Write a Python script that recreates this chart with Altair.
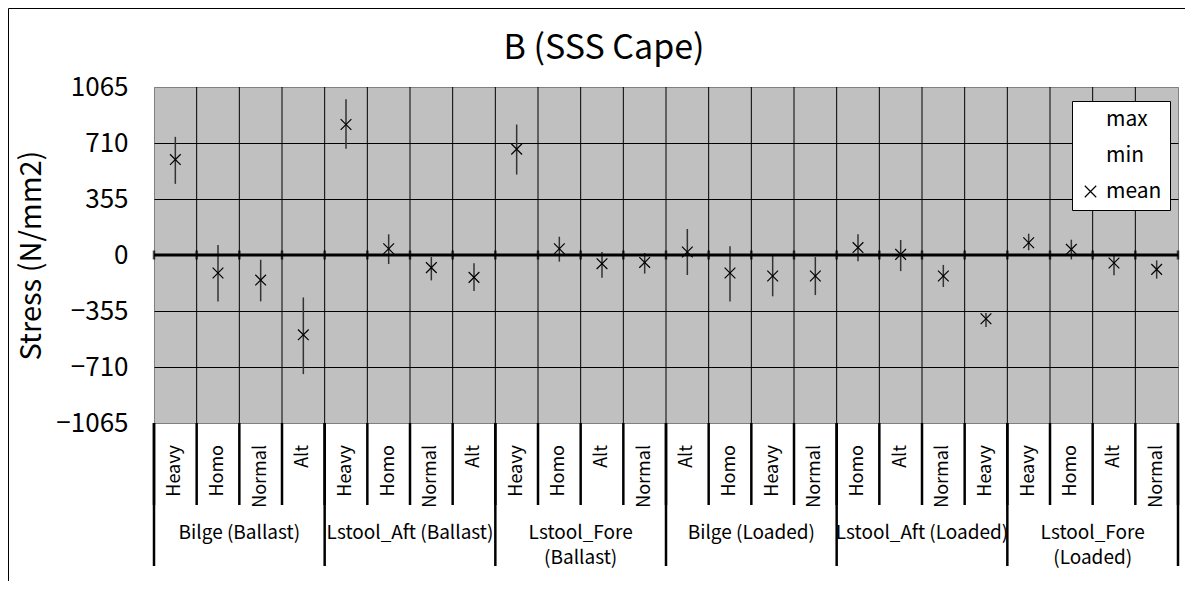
import altair as alt
import pandas as pd

# ---------------- data ----------------
groups = ["Bilge (Ballast)", "Lstool_Aft (Ballast)", "Lstool_Fore\n(Ballast)",
          "Bilge (Loaded)", "Lstool_Aft (Loaded)", "Lstool_Fore\n(Loaded)"]
conditions = ["Heavy", "Homo", "Normal", "Alt",
              "Heavy", "Homo", "Normal", "Alt",
              "Heavy", "Homo", "Alt", "Normal",
              "Alt", "Homo", "Heavy", "Normal",
              "Homo", "Alt", "Normal", "Heavy",
              "Heavy", "Homo", "Alt", "Normal"]
mean_vals = [605, -114, -159, -506,
             827, 40, -80, -142,
             671, 40, -55, -47,
             19, -114, -133, -133,
             47, 4, -133, -404,
             78, 36, -51, -91]
max_vals = [749, 63, -30, -269,
            988, 131, -13, -53,
            827, 116, 19, 13,
            165, 55, 4, -13,
            131, 95, -63, -368,
            135, 97, -2, -34]
min_vals = [451, -294, -294, -755,
            673, -57, -161, -228,
            510, -42, -144, -118,
            -127, -294, -262, -254,
            -40, -102, -203, -457,
            30, -28, -129, -150]
y_ticks = [-1065, -710, -355, 0, 355, 710, 1065]
per_group = 4

FONT = "Noto Sans CJK JP"
W, H = 1024, 336
n = len(conditions)

cat = pd.DataFrame({"pos": [i + 0.5 for i in range(n)], "cond": conditions,
                    "max": max_vals, "min": min_vals, "mean": mean_vals})
long = cat.melt(id_vars=["pos"], value_vars=["max", "min", "mean"],
                var_name="series", value_name="stress")
grp = pd.DataFrame({"gpos": [per_group * g + per_group / 2 for g in range(len(groups))],
                    "label": groups})
bounds = pd.DataFrame({"k": list(range(n + 1)), "zero": 0})
inner = bounds[(bounds.k > 0) & (bounds.k < n)]
gbounds = bounds[bounds.k % per_group == 0]
zero_df = pd.DataFrame({"zero": [0]})

xs = alt.Scale(domain=[0, n], nice=False, zero=False)
ys = alt.Scale(domain=[-1065, 1065], nice=False, zero=False)

yaxis = alt.Axis(
    values=y_ticks, format="d", grid=True,
    gridColor={"condition": {"test": "abs(datum.value) == 1065", "value": "#808080"}, "value": "black"},
    gridWidth=1, domain=False, ticks=False,
    labelFontSize=26, labelFont=FONT, labelColor="black", labelPadding=26,
    title="Stress (N/mm2)", titleFont=FONT, titleFontSize=29, titleFontWeight="normal",
    titleColor="black", titleAngle=270, titleX=-123, titleY=H / 2,
    titleAlign="center", titleBaseline="middle")

cross = "M-1,-1L1,1M-1,1L1,-1"

grid_v = alt.Chart(inner).mark_rule(color="black", strokeWidth=1).encode(
    x=alt.X("k:Q", scale=xs, axis=None), y=alt.value(0), y2=alt.value(H))

hilo = alt.Chart(cat).mark_rule(color="#333333", strokeWidth=1.5).encode(
    x=alt.X("pos:Q", scale=xs, axis=None),
    y=alt.Y("min:Q", scale=ys, axis=yaxis),
    y2="max:Q")

zero_line = alt.Chart(zero_df).mark_rule(color="black", strokeWidth=3).encode(
    y=alt.Y("zero:Q", scale=ys, axis=yaxis), x=alt.value(0), x2=alt.value(W))

zero_ticks = alt.Chart(bounds).mark_tick(orient="vertical", color="black", thickness=2.5, size=9).encode(
    x=alt.X("k:Q", scale=xs, axis=None), y=alt.Y("zero:Q", scale=ys, axis=yaxis))

points = alt.Chart(long).mark_point(filled=False, color="black", strokeWidth=1.2, size=115, opacity=1).encode(
    x=alt.X("pos:Q", scale=xs, axis=None),
    y=alt.Y("stress:Q", scale=ys, axis=yaxis),
    shape=alt.Shape("series:N",
                    scale=alt.Scale(domain=["max", "min", "mean"], range=["M0,0", "M0,0", cross]),
                    legend=alt.Legend(title=None, orient="none", legendX=918, legendY=14,
                                      fillColor="white", strokeColor="black", padding=8,
                                      labelFont=FONT, labelFontSize=21, labelColor="black",
                                      labelOffset=5, rowPadding=14, symbolSize=130,
                                      symbolStrokeColor="black", symbolStrokeWidth=1.2,
                                      symbolFillColor="transparent")))

cat_sep = alt.Chart(bounds).mark_rule(color="black", strokeWidth=2.5).encode(
    x=alt.X("k:Q", scale=xs, axis=None), y=alt.value(H), y2=alt.value(H + 82))
grp_sep = alt.Chart(gbounds).mark_rule(color="black", strokeWidth=2.5).encode(
    x=alt.X("k:Q", scale=xs, axis=None), y=alt.value(H), y2=alt.value(H + 143))

cat_labels = alt.Chart(cat).mark_text(angle=270, align="right", baseline="middle",
                                      font=FONT, fontSize=18, color="black").encode(
    x=alt.X("pos:Q", scale=xs, axis=None), y=alt.value(H + 22), text="cond:N")

grp_labels = alt.Chart(grp).mark_text(align="center", baseline="top", lineBreak="\n",
                                      lineHeight=25, font=FONT, fontSize=19, color="black").encode(
    x=alt.X("gpos:Q", scale=xs, axis=None), y=alt.value(H + 101), text="label:N")

frame_left = alt.Chart(zero_df).mark_rule(color="black", strokeWidth=1).encode(
    x=alt.value(-145.5), y=alt.value(-78.5), y2=alt.value(H + 158))
frame_top = alt.Chart(zero_df).mark_rule(color="black", strokeWidth=1).encode(
    y=alt.value(-78.5), x=alt.value(-145.5), x2=alt.value(W + 7))

chart = alt.layer(
    grid_v, hilo, zero_line, zero_ticks, points,
    cat_sep, grp_sep, cat_labels, grp_labels, frame_left, frame_top
).properties(
    width=W, height=H,
    title=alt.TitleParams("B (SSS Cape)", font=FONT, fontSize=34, fontWeight="normal",
                          color="black", anchor="middle", frame="group", baseline="middle",
                          dx=-62, dy=75, offset=0),
    autosize=alt.AutoSizeParams(type="none"),
    padding={"left": 146, "top": 79, "right": 7, "bottom": 158},
).configure(background="white").configure_view(
    fill="#C0C0C0", stroke="#808080", strokeWidth=1
)

chart.save("out.html", embed_options={"renderer": "svg", "actions": False})
